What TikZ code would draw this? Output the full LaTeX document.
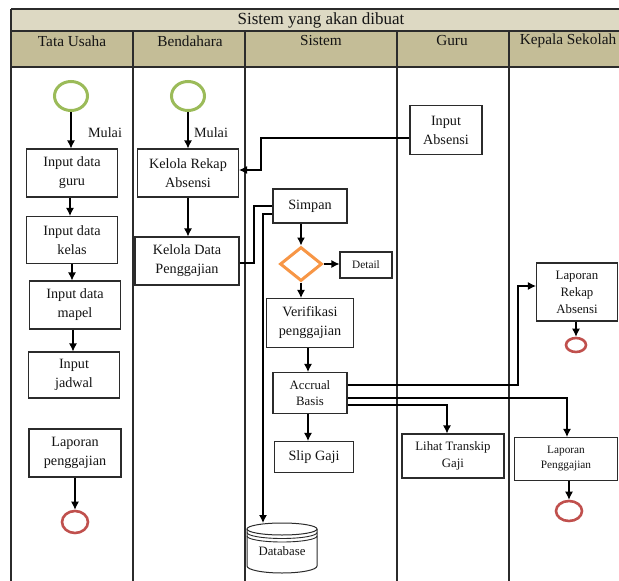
\documentclass[tikz,border=0pt]{standalone}
\usepackage{fontspec}
\setmainfont{Liberation Serif}
\usetikzlibrary{shapes.geometric,arrows.meta,calc}

\definecolor{titlefill}{HTML}{DDD9C3}
\definecolor{headfill}{HTML}{C4BD97}
\definecolor{startgreen}{HTML}{9BBB59}
\definecolor{endred}{HTML}{C0504D}
\definecolor{decorange}{HTML}{F79646}
\definecolor{edgegray}{HTML}{2B2B2B}
\definecolor{inktext}{HTML}{141414}

\tikzset{
  stepbox/.style={rectangle, draw=edgegray, line width=1.1pt, fill=white, align=center,
                  inner sep=0pt, text=inktext},
  big/.style={font=\fontsize{14.2}{19}\selectfont},
  mid/.style={font=\fontsize{12.8}{17}\selectfont},
  small/.style={font=\fontsize{11.3}{15}\selectfont},
  headtext/.style={font=\fontsize{15.3}{18}\selectfont, text=inktext, inner sep=0pt},
  startnode/.style={ellipse, draw=startgreen, line width=3pt, inner sep=0pt,
                    minimum width=33pt, minimum height=29pt},
  endnode/.style={ellipse, draw=endred, line width=2.6pt, inner sep=0pt},
  decision/.style={diamond, draw=decorange, line width=3pt, inner sep=0pt,
                   minimum width=42pt, minimum height=34pt},
  arr/.style={draw=black, line width=1.2pt, -{Latex[length=8pt,width=8pt]}},
  ln/.style={draw=black, line width=1.2pt},
  lane/.style={draw=edgegray, line width=1.2pt},
}

\begin{document}
\begin{tikzpicture}[x=1pt, y=-1pt]
\useasboundingbox (0,0) rectangle (619,581);
\clip (0,0) rectangle (619,581);

% swimlane table
\fill[titlefill] (11,9) rectangle (640,31);
\fill[headfill] (11,31) rectangle (640,67);
\draw[lane] (11,9) -- (640,9);
\draw[lane] (11,31) -- (640,31);
\draw[lane] (11,67) -- (640,67);
\draw[lane] (11,9) -- (11,581);
\foreach \lx in {133,245,397,509} \draw[lane] (\lx,31) -- (\lx,581);

\node[headtext, font=\fontsize{17}{20}\selectfont] (title) at (321,20) {Sistem yang akan dibuat};
\node[headtext] (hTU) at (72,41) {Tata Usaha};
\node[headtext] (hB) at (190,41) {Bendahara};
\node[headtext] (hS) at (321,41) {Sistem};
\node[headtext] (hG) at (452,41) {Guru};
\node[headtext] (hK) at (568,41) {Kepala Sekolah};

% Tata Usaha lane
\node[startnode] (starttu) at (71,96) {};
\node[stepbox, big, minimum width=91pt, minimum height=48pt] (iguru) at (72,173) {Input data\\guru};
\node[stepbox, big, minimum width=91pt, minimum height=47pt] (ikelas) at (72,240) {Input data\\kelas};
\node[stepbox, big, minimum width=91pt, minimum height=48pt] (imapel) at (75,305) {Input data\\mapel};
\node[stepbox, big, minimum width=91pt, minimum height=46pt] (ijadwal) at (74,375) {Input\\jadwal};
\node[stepbox, big, minimum width=92pt, minimum height=48pt] (lptu) at (75,453) {Laporan\\penggajian};
\node[endnode, minimum width=26pt, minimum height=22pt] (endtu) at (75,522) {};
\node[big, text=inktext, inner sep=0pt] (mulaitu) at (105,133) {Mulai};

\draw[arr] (starttu.south) -- (starttu.south |- iguru.north);
\draw[arr] ([xshift=-2pt]iguru.south) -- ([xshift=-2pt]iguru.south |- ikelas.north);
\draw[arr] (ikelas.south) -- (ikelas.south |- imapel.north);
\draw[arr] ([xshift=-2pt]imapel.south) -- ([xshift=-2pt]imapel.south |- ijadwal.north);
\draw[arr] (lptu.south) -- (lptu.south |- endtu.north);

% Bendahara lane
\node[startnode] (startb) at (188,96) {};
\node[stepbox, big, minimum width=101pt, minimum height=48pt] (kra) at (188,173) {Kelola Rekap\\Absensi};
\node[stepbox, big, minimum width=104pt, minimum height=48pt] (kdp) at (187,261) {Kelola Data\\Penggajian};
\node[big, text=inktext, inner sep=0pt] (mulaib) at (211,133) {Mulai};

\draw[arr] (startb.south) -- (startb.south |- kra.north);
\draw[arr] (kra.south) -- (kra.south |- kdp.north);

% Guru lane
\node[stepbox, big, minimum width=72pt, minimum height=49pt] (inabs) at (446,130) {Input\\Absensi};
\node[stepbox, mid, minimum width=102pt, minimum height=44pt] (lihat) at (453,456) {Lihat Transkip\\Gaji};

% Sistem lane
\node[stepbox, big, minimum width=74pt, minimum height=34pt] (simpan) at (310,206) {Simpan};
\node[decision] (dec) at (301,264) {};
\node[stepbox, small, minimum width=52pt, minimum height=26pt] (detail) at (366,265) {Detail};
\node[stepbox, big, minimum width=87pt, minimum height=49pt] (verif) at (310,323) {Verifikasi\\penggajian};
\node[stepbox, mid, font=\fontsize{12.8}{16}\selectfont, minimum width=74pt, minimum height=41pt] (accrual) at (310,393) {Accrual\\Basis};
\node[stepbox, big, minimum width=79pt, minimum height=31pt] (slip) at (314,457) {Slip Gaji};

% database cylinder
\draw[edgegray, line width=1pt, fill=white] (247,529) -- (247,566)
  arc[start angle=180, end angle=360, x radius=35pt, y radius=7pt] -- (317,529);
\draw[edgegray, line width=1pt] (282,529) ellipse [x radius=35pt, y radius=6pt];
\draw[edgegray, line width=0.9pt] (247,532.5) arc[start angle=180, end angle=360, x radius=35pt, y radius=6pt];
\draw[edgegray, line width=0.9pt] (247,536) arc[start angle=180, end angle=360, x radius=35pt, y radius=6pt];
\node[mid, text=inktext, inner sep=0pt] (db) at (282,551) {Database};
\coordinate (dbin) at (263,523);

% Kepala Sekolah lane
\node[stepbox, mid, minimum width=81pt, minimum height=58pt] (lra) at (577,292) {Laporan\\Rekap\\Absensi};
\node[endnode, minimum width=20pt, minimum height=14pt] (endlra) at (576,345) {};
\node[stepbox, small, minimum width=103pt, minimum height=43pt] (lpks) at (566,459) {Laporan\\Penggajian};
\node[endnode, minimum width=26pt, minimum height=20pt] (endks) at (569,511) {};

\draw[arr] ([xshift=-1pt]lra.south) -- ([xshift=-1pt]lra.south |- endlra.north);
\draw[arr] ([xshift=3pt]lpks.south) -- ([xshift=3pt]lpks.south |- endks.north);

% connectors between lanes
\coordinate (ia1) at (261,138);
\coordinate (ia2) at (261,170);
\draw[arr] (inabs.west |- ia1) -- (ia1) -- (ia2) -- (kra.east |- ia2);

\coordinate (kd1) at (254,263);
\draw[ln] (kdp.east |- kd1) -- (kd1) |- (simpan.west);

\coordinate (sd1) at (263,214);
\draw[arr] (simpan.west |- sd1) -- (sd1) -- (dbin);

\draw[arr] (dec.north |- simpan.south) -- (dec.north);
\draw[arr] (dec.east) -- (detail.west |- dec.east);
\draw[arr] (dec.south) -- (dec.south |- verif.north);
\draw[arr] ([xshift=-2pt]verif.south) -- ([xshift=-2pt]verif.south |- accrual.north);
\draw[arr] ([xshift=-2pt]accrual.south) -- ([xshift=-2pt]accrual.south |- slip.north);

\coordinate (ac1) at (518,385);
\coordinate (ac2) at (518,286);
\draw[arr] (accrual.east |- ac1) -- (ac1) -- (ac2) -- (lra.west |- ac2);

\coordinate (ac3) at (567,398);
\draw[arr] (accrual.east |- ac3) -- (ac3) -- (ac3 |- lpks.north);

\coordinate (ac4) at (447,405);
\draw[arr] (accrual.east |- ac4) -- (ac4) -- (ac4 |- lihat.north);

\end{tikzpicture}
\end{document}
